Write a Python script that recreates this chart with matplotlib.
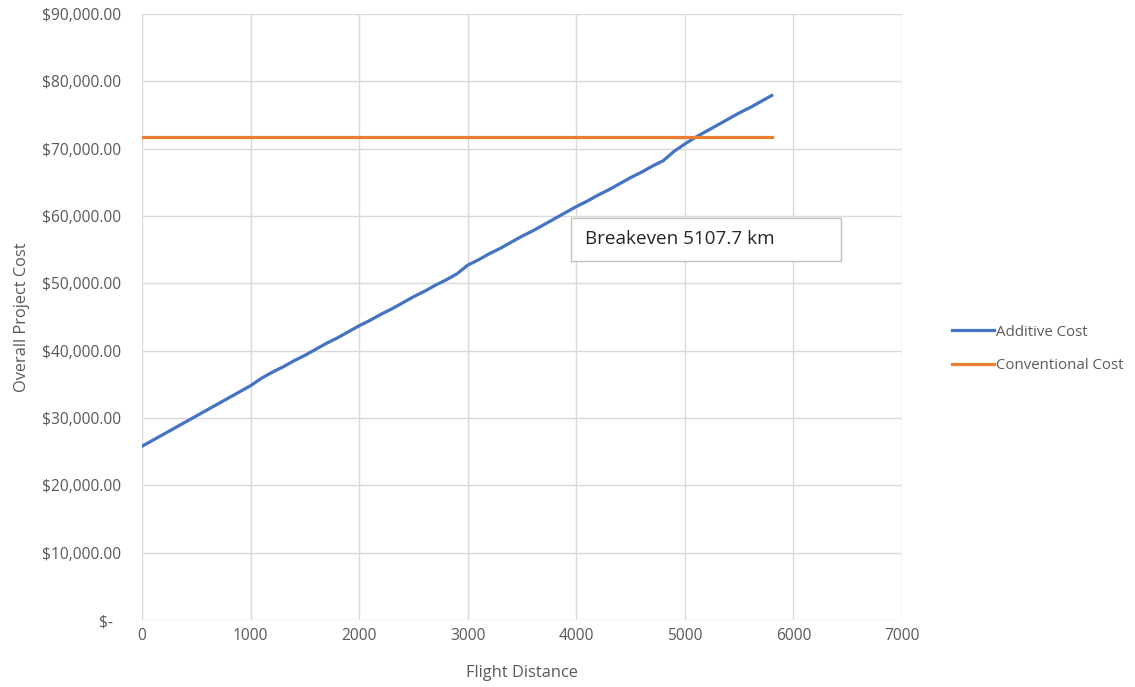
import matplotlib.pyplot as plt
from matplotlib.patches import Rectangle
from matplotlib.ticker import FuncFormatter, MultipleLocator

# flight distance (km)
distance = [0, 100, 200, 300, 400, 500, 600, 700, 800, 900,
            1000, 1100, 1200, 1300, 1400, 1500, 1600, 1700, 1800, 1900,
            2000, 2100, 2200, 2300, 2400, 2500, 2600, 2700, 2800, 2900,
            3000, 3100, 3200, 3300, 3400, 3500, 3600, 3700, 3800, 3900,
            4000, 4100, 4200, 4300, 4400, 4500, 4600, 4700, 4800, 4900,
            5000, 5100, 5200, 5300, 5400, 5500, 5600, 5700, 5800]

# overall cost, additive route (USD)
additive_cost = [25800, 26700, 27600, 28500, 29400, 30300, 31200, 32100, 33000, 33900,
                 34800, 35900, 36800, 37600, 38500, 39300, 40200, 41100, 41900, 42800,
                 43700, 44500, 45400, 46200, 47100, 48000, 48800, 49700, 50500, 51400,
                 52700, 53500, 54400, 55200, 56100, 57000, 57800, 58700, 59600, 60500,
                 61400, 62200, 63100, 63900, 64800, 65700, 66500, 67400, 68200, 69600,
                 70700, 71700, 72600, 73500, 74400, 75300, 76100, 77000, 77900]

conventional_value = 71800
conventional_cost = [conventional_value for _ in distance]

breakeven_label = 'Breakeven 5107.7 km'

grey = '#595959'
font = 'Open Sans'


def money(v, pos):
    if v == 0:
        return '$-  '
    return '${:,.2f}'.format(v)


def main():
    fig = plt.figure(figsize=(11.35, 6.87), dpi=100)
    ax = fig.add_axes([142 / 1135, 1 - 620 / 687, 760 / 1135, 606 / 687])

    ax.plot(distance, additive_cost, color='#4472C4', lw=2.3, label='Additive Cost')
    ax.plot(distance, conventional_cost, color='#ED7D31', lw=2.3, label='Conventional Cost')

    ax.set_xlim(0, 7000)
    ax.set_ylim(0, 90000)
    ax.xaxis.set_major_locator(MultipleLocator(1000))
    ax.yaxis.set_major_locator(MultipleLocator(10000))
    ax.yaxis.set_major_formatter(FuncFormatter(money))
    ax.grid(True, color='#d9d9d9', lw=1)
    ax.set_axisbelow(True)
    for s in ax.spines.values():
        s.set_visible(False)
    ax.tick_params(length=0, colors=grey, labelsize=11.2)
    ax.tick_params(axis='x', pad=6)
    ax.tick_params(axis='y', pad=15)
    for lab in ax.get_xticklabels() + ax.get_yticklabels():
        lab.set_family(font)

    ax.set_xlabel('Flight Distance', color=grey, fontsize=11.8, family=font, labelpad=15)
    ax.set_ylabel('Overall Project Cost', color=grey, fontsize=11.8, family=font, labelpad=9)

    # breakeven call-out box
    ax.add_patch(Rectangle((3951, 53300), 2487, 6400, facecolor='white',
                           edgecolor='#bfbfbf', lw=1, zorder=5))
    ax.text(4080, 56600, breakeven_label, fontsize=13.6, family=font,
            color='#262626', va='center', ha='left', zorder=6)

    leg = fig.legend(loc='center left', bbox_to_anchor=(938 / 1135, 1 - 349 / 687),
                     frameon=False, handlelength=2.8, handletextpad=0.2,
                     labelspacing=1.25, prop={'family': font, 'size': 10.8})
    for t in leg.get_texts():
        t.set_color(grey)

    fig.savefig('out.png', dpi=100)


if __name__ == '__main__':
    main()
